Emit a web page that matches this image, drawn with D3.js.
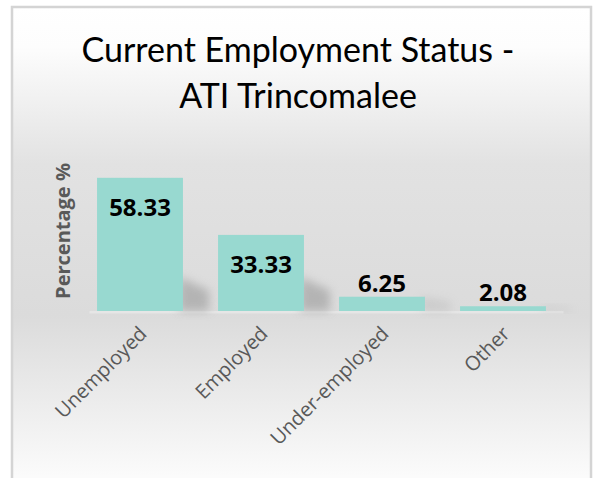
<!DOCTYPE html>
<html>
<head>
<meta charset="utf-8">
<script src="https://cdn.jsdelivr.net/npm/d3@7"></script>
<style>
  body { margin: 0; background: #fff; }
  svg { display: block; }
</style>
</head>
<body>
<div id="chart"></div>
<script>
// data
const categories = ["Unemployed", "Employed", "Under-employed", "Other"];
const values = [58.33, 33.33, 6.25, 2.08];
const titleLines = ["Current Employment Status -", "ATI Trincomalee"];
const yLabel = "Percentage %";

const width = 596, height = 478;

const svg = d3.select("#chart").append("svg")
    .attr("width", width).attr("height", height);

const defs = svg.append("defs");

// vertical background gradient, white -> grey -> white
const grad = defs.append("linearGradient")
    .attr("id", "bg").attr("x1", 0).attr("y1", 0).attr("x2", 0).attr("y2", 1);
grad.append("stop").attr("offset", "0%").attr("stop-color", "#ffffff");
grad.append("stop").attr("offset", "8%").attr("stop-color", "#fdfdfd");
grad.append("stop").attr("offset", "32%").attr("stop-color", "#e2e2e2");
grad.append("stop").attr("offset", "63%").attr("stop-color", "#dbdbdb");
grad.append("stop").attr("offset", "100%").attr("stop-color", "#ffffff");

const blur = defs.append("filter").attr("id", "soft")
    .attr("x", "-50%").attr("y", "-50%").attr("width", "200%").attr("height", "200%");
blur.append("feGaussianBlur").attr("stdDeviation", 5);

// chart frame
svg.append("rect")
    .attr("x", 12).attr("y", 7)
    .attr("width", 579).attr("height", 490)
    .attr("fill", "url(#bg)")
    .attr("stroke", "#d4d4d4")
    .attr("stroke-width", 2.5);

// title
svg.append("text")
    .attr("text-anchor", "middle")
    .style("font-family", "Lato, 'Open Sans', sans-serif")
    .style("font-size", "34px")
    .style("fill", "#000")
  .selectAll("tspan").data(titleLines)
  .enter().append("tspan")
    .attr("x", 298)
    .attr("y", (d, i) => 62 + i * 46)
    .text(d => d);

// scales
const x = d3.scaleBand()
    .domain(categories)
    .range([79.5, 563.5])
    .paddingInner(0.29)
    .paddingOuter(0.145);

const y = d3.scaleLinear()
    .domain([0, 60])
    .range([311, 174]);

const data = categories.map((c, i) => ({cat: c, val: values[i]}));

// floor strip under bars
svg.append("rect")
    .attr("x", x.range()[0] + 10).attr("y", y(0))
    .attr("width", x.range()[1] - x.range()[0] - 10).attr("height", 2.5)
    .attr("fill", "#e6e6e6");

// soft shadows to lower right of each bar
svg.append("g").selectAll("path")
    .data(data)
  .enter().append("path")
    .attr("filter", "url(#soft)")
    .attr("fill", "#9a9a9a")
    .attr("opacity", d => d.val > 20 ? 0.6 : 0.25)
    .attr("d", d => {
        const x0 = x(d.cat) + x.bandwidth() - 4;
        const yb = y(0);
        const h = Math.min(yb - y(d.val), 34);
        return `M${x0},${yb} L${x0},${yb - h} L${x0 + 30},${yb - h * 0.6} L${x0 + 30},${yb} Z`;
    });

// bars
svg.append("g").selectAll("rect")
    .data(data)
  .enter().append("rect")
    .attr("x", d => x(d.cat))
    .attr("y", d => y(d.val))
    .attr("width", x.bandwidth())
    .attr("height", d => y(0) - y(d.val))
    .attr("fill", "#98d9d0");

// value labels: inside for tall bars, above for short ones
svg.append("g").selectAll("text")
    .data(data)
  .enter().append("text")
    .attr("x", d => x(d.cat) + x.bandwidth() / 2)
    .attr("y", d => d.val > 20 ? y(d.val) + 38 : y(d.val) - 5)
    .attr("text-anchor", "middle")
    .style("font-family", "'Open Sans', sans-serif")
    .style("font-weight", "bold")
    .style("font-size", "24px")
    .style("fill", "#000")
    .text(d => d.val.toFixed(2));

// x axis labels rotated
svg.append("g").selectAll("text")
    .data(categories)
  .enter().append("text")
    .attr("transform", d => `translate(${x(d) + x.bandwidth() / 2 + 8},${y(0) + 24}) rotate(-45)`)
    .attr("text-anchor", "end")
    .style("font-family", "'Open Sans', sans-serif")
    .style("font-size", "20px")
    .style("fill", "#595959")
    .text(d => d);

// y axis title
svg.append("text")
    .attr("transform", "translate(70,231) rotate(-90)")
    .attr("text-anchor", "middle")
    .style("font-family", "'Open Sans', sans-serif")
    .style("font-weight", "bold")
    .style("font-size", "20px")
    .style("fill", "#595959")
    .text(yLabel);
</script>
</body>
</html>
